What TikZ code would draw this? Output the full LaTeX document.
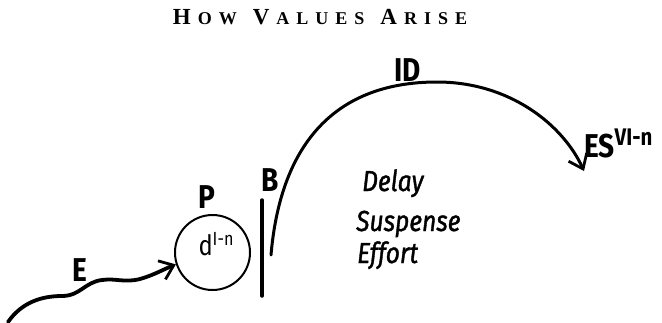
\documentclass[tikz,border=0pt]{standalone}
\usepackage{fontspec}
\usepackage{tikz}
\usetikzlibrary{arrows.meta}

\newfontfamily\handfont[FakeStretch=0.85]{Fira Sans}
\newfontfamily\wordfont[FakeStretch=0.85, FakeBold=1.2]{Fira Sans}
\newfontfamily\titlefont{Liberation Serif}
\newcommand{\smcap}[1]{{\fontsize{18}{18}\selectfont #1}}
\newcommand{\ls}{\kern7pt}
\newcommand{\ws}{\hspace{16pt}}

\begin{document}
\begin{tikzpicture}[
    x=1pt, y=-1pt,
    lbl/.style={inner sep=0pt, font=\handfont\bfseries\fontsize{33}{33}\selectfont},
    word/.style={inner sep=0pt, anchor=base west, font=\wordfont\itshape\fontsize{29}{29}\selectfont},
    arr/.style={-{Straight Barb[length=13pt, width=20pt, line width=2.8pt]}, line width=3pt, line cap=round}
  ]
    \useasboundingbox (0,0) rectangle (662,322);
    % title
    \node[inner sep=0pt, anchor=base, font=\titlefont\bfseries\fontsize{23}{23}\selectfont] (title) at (320,24)
      {H\ls\smcap{O\ls W}\ws V\ls\smcap{A\ls L\ls U\ls E\ls S}\ws A\ls\smcap{R\ls I\ls S\ls E}};
    % organism with its drives
    \node[circle, draw, line width=2pt, minimum size=75, inner sep=0pt] (pnode) at (212.5,252.5) {};
    \node[inner sep=0pt, anchor=base, font=\handfont\fontsize{28}{28}\selectfont] (dlbl) at (216,255) {d\raisebox{10pt}{\fontsize{19}{19}\selectfont I-n}};
    \node[lbl] (plbl) at (207,197) {P};
    % barrier
    \coordinate (bartop) at (262,200);
    \coordinate (barbot) at (262,296);
    \draw[line width=3.5pt, line cap=round] (bartop) -- (barbot);
    \node[lbl] (blbl) at (270,180) {B};
    % environment stimulus
    \coordinate (wstart) at (8,322);
    \node[lbl] (elbl) at (80,270) {E};
    \draw[arr, line width=3.8pt] (wstart) .. controls (22,302) and (42,296) .. (62,296)
      .. controls (80,296) and (85,282) .. (102,280)
      .. controls (116,278) and (124,283) .. (140,279)
      .. controls (154,275) and (162,270) .. (pnode.198);
    % indirect drive
    \coordinate (bstart) at (271,255);
    \coordinate (idtop) at (437,82);
    \coordinate (estip) at (584,171);
    \draw[arr] (bstart) .. controls (280,150) and (330,82) .. (idtop)
      .. controls (510,82) and (563,125) .. (estip);
    \node[lbl] (idlbl) at (408,70) {ID};
    \node[lbl, anchor=base west] (eslbl) at (584,157) {ES\raisebox{12pt}{\fontsize{24}{24}\selectfont VI-n}};
    % words under the arc
    \node[word] (delay) at (362,191) {Delay};
    \node[word] (suspense) at (356,231) {Suspense};
    \node[word] (effort) at (357,263) {Effort};
  \end{tikzpicture}
\end{document}
